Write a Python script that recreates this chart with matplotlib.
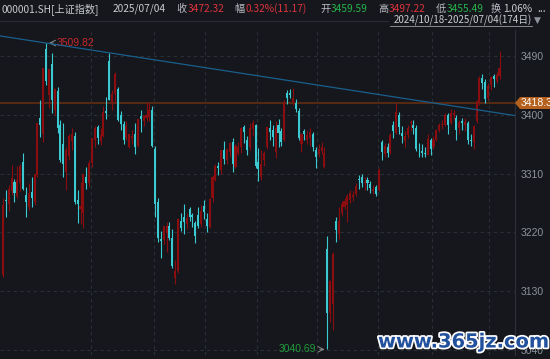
import matplotlib
matplotlib.use("Agg")
import numpy as np
import matplotlib.pyplot as plt
import matplotlib.patheffects as pe
from matplotlib.patches import Polygon

plt.rcParams['font.family'] = ['Noto Sans CJK SC', 'DejaVu Sans']

# trading days, 2024/10/18 - 2025/07/04 (174 days)
month_names = ['2024-10', '2024-11', '2024-12', '2025-01', '2025-02',
               '2025-03', '2025-04', '2025-05', '2025-06', '2025-07']
month_days = [10, 21, 22, 18, 18, 21, 21, 19, 20, 4]

opens = [3155, 3270, 3263, 3283, 3297, 3275, 3296, 3327, 3277, 3258,
         3281, 3266, 3308, 3395, 3370, 3500, 3430, 3477, 3408, 3436,
         3385, 3355, 3312, 3337, 3360, 3367, 3270, 3255, 3250, 3305,
         3296, 3326, 3362, 3381, 3360, 3368, 3405, 3482, 3420, 3432,
         3440, 3399, 3386, 3364, 3351, 3365, 3371, 3352, 3398, 3390,
         3395, 3396, 3408, 3347, 3267, 3210, 3208, 3219, 3229, 3211,
         3150, 3160, 3237, 3243, 3232, 3255, 3246, 3234, 3246, 3232,
         3260, 3240, 3228, 3272, 3300, 3322, 3315, 3346, 3330, 3343,
         3358, 3320, 3342, 3350, 3381, 3362, 3350, 3378, 3384, 3327,
         3305, 3330, 3350, 3380, 3377, 3343, 3384, 3375, 3361, 3433,
         3433, 3420, 3418, 3405, 3355, 3375, 3362, 3365, 3371, 3346,
         3340, 3345, 3320, 3194, 3097, 3110, 3237, 3218, 3250, 3258,
         3262, 3270, 3274, 3278, 3301, 3305, 3296, 3300, 3294, 3283,
         3290, 3285, 3358, 3340, 3350, 3343, 3384, 3372, 3399, 3372,
         3360, 3369, 3387, 3385, 3380, 3348, 3345, 3341, 3338, 3362,
         3350, 3362, 3376, 3384, 3385, 3400, 3388, 3400, 3395, 3380,
         3390, 3385, 3388, 3362, 3358, 3391, 3419, 3457, 3450, 3425,
         3445, 3460, 3452, 3459.59]
highs = [3273, 3284, 3293, 3323, 3301, 3322, 3324, 3342, 3290, 3296,
         3304, 3310, 3387, 3422, 3471, 3509.82, 3470, 3494, 3441, 3443,
         3392, 3388, 3350, 3371, 3380, 3373, 3284, 3297, 3310, 3320,
         3330, 3364, 3383, 3385, 3380, 3413, 3427, 3495, 3438, 3465,
         3443, 3405, 3391, 3390, 3371, 3376, 3387, 3394, 3407, 3400,
         3419, 3418, 3414, 3352, 3273, 3222, 3230, 3236, 3236, 3225,
         3178, 3242, 3249, 3264, 3250, 3258, 3250, 3238, 3258, 3262,
         3270, 3250, 3272, 3308, 3325, 3328, 3346, 3360, 3348, 3358,
         3365, 3355, 3358, 3381, 3384, 3368, 3388, 3392, 3386, 3349,
         3346, 3345, 3381, 3392, 3385, 3391, 3394, 3380, 3422, 3438,
         3439, 3441, 3424, 3410, 3372, 3378, 3377, 3380, 3374, 3350,
         3355, 3358, 3350, 3214, 3147, 3189, 3243, 3258, 3268, 3272,
         3278, 3285, 3283, 3295, 3308, 3310, 3304, 3305, 3298, 3292,
         3292, 3318, 3362, 3357, 3357, 3372, 3390, 3418, 3404, 3382,
         3375, 3385, 3392, 3392, 3385, 3356, 3355, 3350, 3370, 3365,
         3368, 3378, 3388, 3392, 3402, 3403, 3409, 3408, 3400, 3392,
         3395, 3395, 3390, 3370, 3384, 3421, 3460, 3463, 3455, 3449,
         3460, 3462, 3465, 3497.22]
lows = [3152, 3243, 3253, 3277, 3266, 3272, 3283, 3284, 3244, 3254,
        3258, 3261, 3304, 3366, 3358, 3445, 3410, 3403, 3400, 3372,
        3327, 3305, 3284, 3330, 3346, 3264, 3234, 3232, 3227, 3286,
        3290, 3320, 3350, 3355, 3353, 3366, 3393, 3422, 3408, 3418,
        3391, 3376, 3355, 3362, 3349, 3355, 3340, 3350, 3374, 3383,
        3390, 3390, 3351, 3243, 3205, 3180, 3202, 3190, 3208, 3166,
        3140, 3158, 3222, 3218, 3225, 3238, 3228, 3203, 3226, 3228,
        3240, 3220, 3226, 3266, 3298, 3308, 3310, 3325, 3325, 3335,
        3312, 3318, 3338, 3341, 3356, 3338, 3346, 3368, 3318, 3298,
        3300, 3322, 3347, 3362, 3352, 3334, 3350, 3352, 3360, 3416,
        3425, 3415, 3404, 3362, 3343, 3362, 3355, 3352, 3345, 3318,
        3335, 3340, 3318, 3040.69, 3082, 3070, 3205, 3210, 3245, 3255,
        3235, 3265, 3268, 3276, 3287, 3290, 3285, 3285, 3280, 3278,
        3275, 3283, 3330, 3335, 3335, 3340, 3365, 3370, 3370, 3356,
        3350, 3365, 3375, 3370, 3345, 3335, 3335, 3335, 3338, 3338,
        3348, 3360, 3374, 3378, 3383, 3370, 3386, 3392, 3362, 3370,
        3377, 3375, 3355, 3352, 3348, 3388, 3415, 3440, 3418, 3422,
        3438, 3443, 3448, 3455.49]
closes = [3262, 3268, 3286, 3303, 3280, 3300, 3322, 3286, 3266, 3280,
          3272, 3310, 3387, 3384, 3471, 3452, 3470, 3422, 3439, 3380,
          3331, 3324, 3346, 3368, 3370, 3267, 3264, 3260, 3310, 3296,
          3326, 3364, 3379, 3365, 3369, 3404, 3403, 3423, 3432, 3462,
          3392, 3386, 3361, 3382, 3370, 3368, 3351, 3394, 3393, 3398,
          3400, 3407, 3352, 3263, 3211, 3207, 3230, 3230, 3211, 3169,
          3161, 3241, 3227, 3236, 3242, 3244, 3243, 3214, 3230, 3253,
          3251, 3229, 3271, 3304, 3322, 3318, 3346, 3332, 3347, 3356,
          3324, 3352, 3351, 3379, 3373, 3346, 3380, 3388, 3321, 3317,
          3324, 3342, 3381, 3373, 3366, 3380, 3372, 3359, 3420, 3426,
          3430, 3426, 3409, 3365, 3370, 3370, 3369, 3374, 3351, 3336,
          3348, 3350, 3342, 3097, 3146, 3187, 3224, 3238, 3263, 3268,
          3276, 3280, 3277, 3291, 3300, 3296, 3297, 3295, 3288, 3287,
          3279, 3316, 3343, 3352, 3342, 3369, 3375, 3404, 3381, 3367,
          3368, 3380, 3388, 3380, 3348, 3347, 3341, 3340, 3363, 3347,
          3362, 3376, 3384, 3385, 3400, 3385, 3402, 3403, 3377, 3389,
          3387, 3389, 3362, 3360, 3382, 3421, 3456, 3448, 3424, 3444,
          3458, 3455, 3461, 3472.32]

y_ticks = [3040, 3130, 3220, 3310, 3400, 3490]
peak_high = 3509.82
bottom_low = 3040.69
pressure_level = 3418.3
trend_points = [(15, 3509.82), (37, 3494.86)]   # two highs the trend line runs through

bg = '#15171c'
red = '#8c0d10'
cyan = '#3ccad2'
grid_c = '#2a2e36'

opens = np.array(opens, dtype=float)
highs = np.array(highs, dtype=float)
lows = np.array(lows, dtype=float)
closes = np.array(closes, dtype=float)
x = np.arange(len(closes))
up = closes >= opens
colors = np.where(up, red, cyan)

W, H = 550, 359
fig = plt.figure(figsize=(W / 100, H / 100), dpi=100, facecolor=bg)
ax = fig.add_axes([0, 4 / H, 515 / W, 325 / H], facecolor=bg)

# grid first
for yt in y_ticks:
    ax.axhline(yt, color=grid_c, lw=0.8, ls=(0, (3, 3)), zorder=0)
month_start = np.cumsum([0] + month_days[:-1])
for ms in month_start[2:]:
    ax.axvline(ms - 0.5, color=grid_c, lw=0.8, ls=(0, (3, 3)), zorder=0)

# candles
ax.vlines(x, lows, highs, color=colors, lw=0.8, zorder=2)
body = np.maximum(np.abs(closes - opens), 1.2)
ax.bar(x, body, bottom=np.minimum(opens, closes), width=0.72, color=colors,
       linewidth=0, zorder=3)

# trend line through the two highs
(x1, y1), (x2, y2) = trend_points
slope = (y2 - y1) / (x2 - x1)
tx = np.array([-2, 180])
ax.plot(tx, y1 + slope * (tx - x1), color='#1a5f8c', lw=0.9, zorder=4)

# horizontal level
ax.axhline(pressure_level, color='#5e2c12', lw=1.3, zorder=1)

ax.set_xlim(-1.05, 178.4)
ax.set_ylim(3032, 3529.8)
ax.yaxis.tick_right()
ax.set_yticks(y_ticks)
ax.set_yticklabels([str(v) for v in y_ticks])
ax.tick_params(axis='y', length=0, pad=4, labelsize=7.5, labelcolor='#8d929b')
for lab in ax.get_yticklabels():
    lab.set_family(['Liberation Sans', 'DejaVu Sans'])
ax.set_xticks([])
for s in ['top', 'bottom', 'left']:
    ax.spines[s].set_visible(False)
ax.spines['right'].set_color('#2c3038')
ax.spines['right'].set_linewidth(0.8)

# max / min markers
ax.annotate('', xy=(15, peak_high), xytext=(18.5, peak_high),
            arrowprops=dict(arrowstyle='->', color='#8a8a8a', lw=0.7))
ax.text(18.7, peak_high, '3509.82', color='#c8282e', fontsize=7.5,
        va='center', ha='left', family=['Liberation Sans', 'DejaVu Sans'])
ax.annotate('', xy=(113, bottom_low), xytext=(109.4, bottom_low),
            arrowprops=dict(arrowstyle='->', color='#8a8a8a', lw=0.7))
ax.text(109.2, bottom_low, '3040.69', color='#1f9c3c', fontsize=7.5,
        va='center', ha='right', family=['Liberation Sans', 'DejaVu Sans'])


def fx(px):
    return px / W


def fy(py):
    return 1 - py / H


# price tag for the level
ly = 103
tag = Polygon([(fx(515), fy(ly)), (fx(520), fy(ly - 6)), (fx(551), fy(ly - 6)),
               (fx(551), fy(ly + 6)), (fx(520), fy(ly + 6))],
              closed=True, transform=fig.transFigure, facecolor='#b5611d',
              edgecolor='none', zorder=5)
fig.patches.append(tag)
fig.text(fx(521), fy(ly), '3418.3', color='white', fontsize=7.5, va='center',
         ha='left', family=['Liberation Sans', 'DejaVu Sans'], zorder=6)

# header
gray = '#c9ccd1'
lbl = '#b9bcc2'
hred = '#e0333c'
hgreen = '#27b34b'
hy = 9
header = [
    (2, '000001.SH[上证指数]', gray),
    (113, '2025/07/04', gray),
    (176, '收', lbl), (188, '3472.32', hred),
    (234, '幅', lbl), (246, '0.32%(11.17)', hred),
    (320, '开', lbl), (331, '3459.59', hgreen),
    (378, '高', lbl), (389, '3497.22', hred),
    (436, '低', lbl), (447, '3455.49', hgreen),
    (491, '换', lbl), (503, '1.06%', gray), (537, '...', gray),
]
for px, s, c in header:
    fig.text(fx(px), fy(hy), s, color=c, fontsize=7.3, va='center', ha='left')

fig.add_artist(plt.Line2D([0, fx(388)], [fy(21), fy(21)], color='#2a2d33', lw=0.8))
fig.text(fx(532), fy(20), '2024/10/18-2025/07/04(174日)', color='#c9ccd1',
         fontsize=7.0, va='center', ha='right')
fig.add_artist(plt.Line2D([fx(390), fx(532)], [fy(26), fy(26)], color='#9a9da3', lw=0.6))
fig.text(fx(534), fy(20), '▼', color='#8d929b', fontsize=6.5, va='center',
         ha='left', family=['DejaVu Sans'])

# site watermark
fig.text(fx(378), fy(342), 'www.365jz.com', color='#21509c', fontsize=14,
         fontweight='bold', va='center', ha='left', family=['DejaVu Sans'],
         path_effects=[pe.withStroke(linewidth=2.5, foreground='white')], zorder=10)

fig.savefig('out.png', dpi=100, facecolor=bg)
